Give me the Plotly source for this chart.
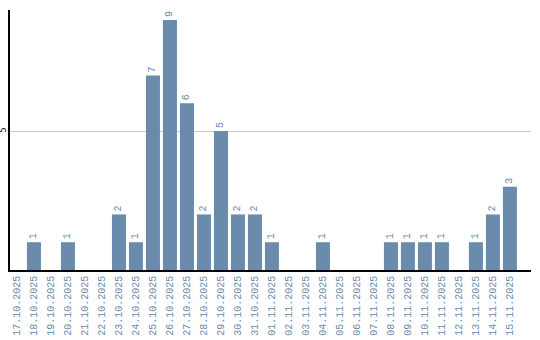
import plotly.graph_objects as go

dates = ["17.10.2025","18.10.2025","19.10.2025","20.10.2025","21.10.2025","22.10.2025",
         "23.10.2025","24.10.2025","25.10.2025","26.10.2025","27.10.2025","28.10.2025",
         "29.10.2025","30.10.2025","31.10.2025","01.11.2025","02.11.2025","03.11.2025",
         "04.11.2025","05.11.2025","06.11.2025","07.11.2025","08.11.2025","09.11.2025",
         "10.11.2025","11.11.2025","12.11.2025","13.11.2025","14.11.2025","15.11.2025"]
counts = [0,1,0,1,0,0,2,1,7,9,6,2,5,2,2,1,0,0,1,0,0,0,1,1,1,1,0,1,2,3]

bar_color = "#6a8bab"
labels = [str(v) if v > 0 else "" for v in counts]

fig = go.Figure(go.Bar(
    x=dates, y=counts, marker_color=bar_color, marker_line_width=0,
    text=labels, textposition="outside", textangle=-90,
    textfont=dict(family="Liberation Mono", size=10, color=bar_color),
    cliponaxis=False,
))
fig.update_layout(
    width=540, height=340, margin=dict(l=10, r=9, t=10, b=70),
    paper_bgcolor="white", plot_bgcolor="white", bargap=0.176,
    showlegend=False,
    xaxis=dict(type="category", tickangle=-90, showline=True, linecolor="black", linewidth=1.5,
               range=[-0.41, 30.24],
               tickfont=dict(family="Liberation Mono", size=10, color=bar_color),
               ticks="", showgrid=False, automargin=False),
    yaxis=dict(range=[0, 9.36], tickvals=[5], ticktext=["5"], tickangle=-90,
               showline=True, linecolor="black", linewidth=1.5,
               tickfont=dict(family="DejaVu Sans", size=8, color="black"),
               ticklabelstandoff=-1,
               gridcolor="#cccccc", gridwidth=1, zeroline=False, ticks="", automargin=False),
)
fig.write_html("out.html")
